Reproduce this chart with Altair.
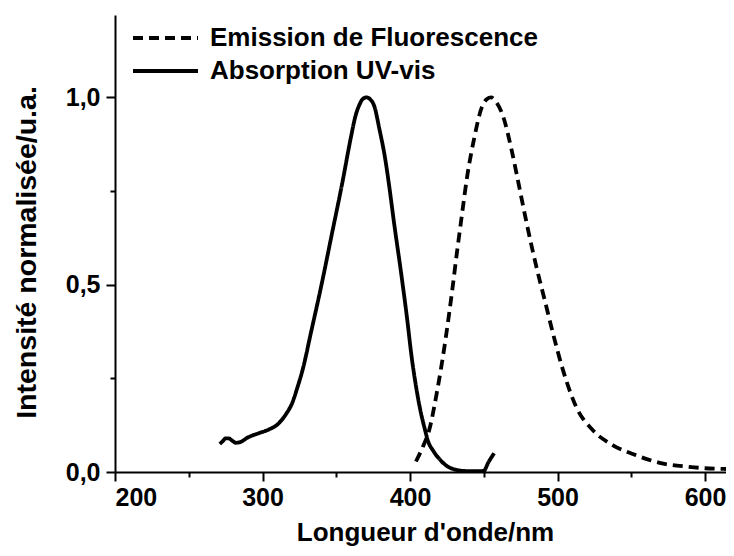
import altair as alt
import pandas as pd

# ---- data ----
ABS_NM = [271, 273, 275, 277, 279, 282, 285, 290, 297, 304, 311, 316, 320, 324,
          327, 333, 340, 347, 354, 360, 363, 366, 368, 370.5, 373, 376, 379, 383,
          386, 389, 394, 398, 401, 404, 407, 410, 412, 416, 421, 425, 430, 436,
          443, 450, 453, 457]
ABS_VAL = [0.075, 0.082, 0.09, 0.09, 0.085, 0.078, 0.08, 0.092, 0.103, 0.113,
           0.13, 0.155, 0.183, 0.23, 0.27, 0.375, 0.5, 0.635, 0.77, 0.895,
           0.95, 0.983, 0.996, 1.0, 0.995, 0.974, 0.92, 0.84, 0.76, 0.67, 0.53,
           0.41, 0.31, 0.23, 0.165, 0.115, 0.085, 0.055, 0.03, 0.016, 0.007,
           0.003, 0.002, 0.003, 0.025, 0.05]

EM_NM = [404, 409, 413, 418.5, 424, 428.6, 432, 435.3, 438.7, 443.2, 448.7, 452,
         455, 458, 463.3, 468.9, 474.5, 480.1, 485.7, 491.3, 496.9, 503.7, 512.6,
         523.8, 537.3, 553, 570.9, 588.8, 600, 615]
EM_VAL = [0.028, 0.07, 0.112, 0.219, 0.352, 0.485, 0.592, 0.69, 0.788, 0.885,
          0.974, 0.995, 1.0, 0.99, 0.947, 0.859, 0.752, 0.645, 0.547, 0.459, 0.37,
          0.272, 0.174, 0.112, 0.072, 0.045, 0.023, 0.014, 0.01, 0.008]

SERIES = ["Emission de Fluorescence", "Absorption UV-vis"]
X_MAJOR = [200, 300, 400, 500, 600]
X_MINOR = [250, 350, 450, 550]
Y_MAJOR = [0.0, 0.5, 1.0]
Y_MINOR = [0.25, 0.75]
X_TITLE = "Longueur d'onde/nm"
Y_TITLE = "Intensité normalisée/u.a."

rows = [{"nm": n, "val": v, "series": SERIES[1]} for n, v in zip(ABS_NM, ABS_VAL)]
rows += [{"nm": n, "val": v, "series": SERIES[0]} for n, v in zip(EM_NM, EM_VAL)]
df = pd.DataFrame(rows)

FONT = "Liberation Sans"
xs = alt.Scale(domain=[200, 614.2], nice=False, zero=False)
ys = alt.Scale(domain=[0, 1.22], nice=False, zero=False)

common = dict(domainColor="black", domainWidth=2, tickColor="black", tickWidth=2,
              grid=False, labelFont=FONT, labelFontSize=25, labelFontWeight="bold",
              labelColor="black", titleFont=FONT, titleFontWeight="bold",
              titleColor="black")

x_major = alt.Axis(values=X_MAJOR, orient="bottom", title=X_TITLE, titleFontSize=26,
                   tickSize=9, labelPadding=4, format="d",
                   titleBaseline="alphabetic", titleY=68, titleX=310, **common)
y_major = alt.Axis(values=Y_MAJOR, orient="left", title=Y_TITLE, titleFontSize=28.5,
                   tickSize=9, labelPadding=6,
                   labelExpr="replace(format(datum.value, '.1f'), '.', ',')",
                   titleX=-89, titleY=237, titleBaseline="middle", **common)
x_minor = alt.Axis(values=X_MINOR, orient="bottom", title=None, labels=False,
                   tickSize=5, domain=False, tickColor="black", tickWidth=2, grid=False)
y_minor = alt.Axis(values=Y_MINOR, orient="left", title=None, labels=False,
                   tickSize=5, domain=False, tickColor="black", tickWidth=2, grid=False)

legend = alt.Legend(title=None, orient="none", legendX=37.5, legendY=10,
                    symbolType="M-6.5,0H6.5", symbolSize=100, symbolStrokeWidth=3.8,
                    symbolStrokeColor="black", labelFont=FONT, labelFontSize=26,
                    labelFontWeight="bold", labelColor="black", labelOffset=31.5,
                    labelLimit=600, rowPadding=7, padding=0, direction="vertical")

lines = alt.Chart(df).mark_line(color="black", strokeWidth=3.8,
                                interpolate="monotone", clip=True).encode(
    x=alt.X("nm:Q", scale=xs, axis=x_major),
    y=alt.Y("val:Q", scale=ys, axis=y_major),
    strokeDash=alt.StrokeDash("series:N",
                              scale=alt.Scale(domain=SERIES, range=[[10, 6], [1, 0]]),
                              legend=legend),
)

minor = alt.Chart(df).mark_point(opacity=0).encode(
    x=alt.X("nm:Q", scale=xs, axis=x_minor),
    y=alt.Y("val:Q", scale=ys, axis=y_minor),
)

chart = alt.layer(lines, minor).resolve_axis(x="independent", y="independent").properties(
    width=611, height=457,
    autosize=alt.AutoSizeParams(type="none"),
    padding={"left": 107, "top": 7, "right": 0, "bottom": 76},
).configure_view(stroke=None)

chart.save("out.html", embed_options={"renderer": "svg", "actions": False})
